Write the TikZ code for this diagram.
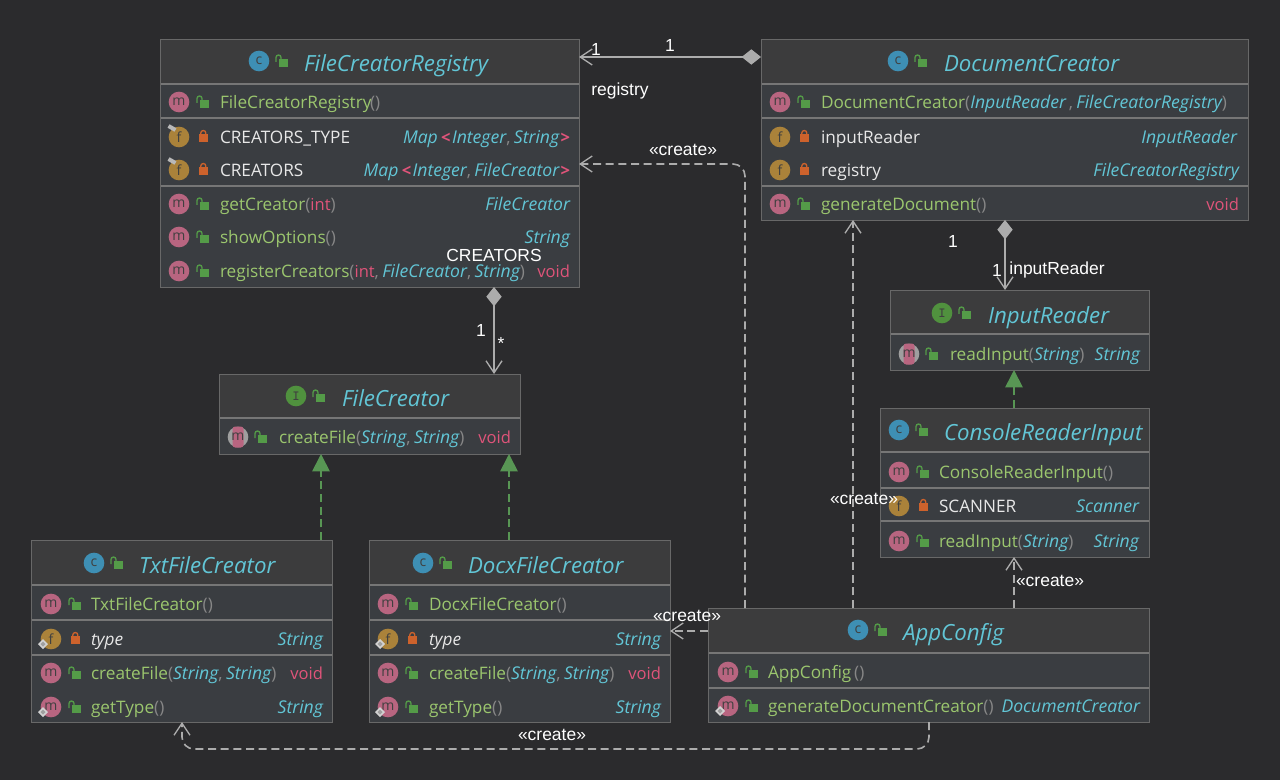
\documentclass[tikz,border=0pt]{standalone}
\usepackage{fontspec}
\setmainfont{Open Sans}
\newfontfamily\labelfont{Liberation Sans}
\usetikzlibrary{arrows.meta,calc}
\definecolor{pagebg}{RGB}{43,43,45}
\definecolor{headbg}{RGB}{60,60,61}
\definecolor{bodybg}{RGB}{58,61,65}
\definecolor{rulegray}{RGB}{104,104,104}
\definecolor{sepgray}{RGB}{118,118,118}
\definecolor{linkgray}{RGB}{172,172,172}
\definecolor{mgreen}{RGB}{155,198,110}
\definecolor{tcyan}{RGB}{98,198,214}
\definecolor{vpink}{RGB}{224,84,122}
\definecolor{pgray}{RGB}{135,135,135}
\definecolor{ftext}{RGB}{232,232,232}
\definecolor{icm}{RGB}{184,101,128}
\definecolor{icf}{RGB}{170,130,58}
\definecolor{icc}{RGB}{62,143,180}
\definecolor{ici}{RGB}{80,145,62}
\definecolor{lockg}{RGB}{84,155,72}
\definecolor{locko}{RGB}{205,98,44}
\definecolor{implg}{RGB}{88,150,84}
\newcounter{nn}
\newcommand\gn[1]{\textcolor{mgreen}{#1}}
\newcommand\cy[1]{\textcolor{tcyan}{\fontsize{13.2}{14}\selectfont\itshape #1}}
\newcommand\pk[1]{\textcolor{vpink}{\fontsize{12.4}{14}\selectfont #1}}
\newcommand\gy[1]{\textcolor{pgray}{#1}}
\newcommand\wh[1]{\textcolor{ftext}{#1}}
\newcommand\cm{\gy{,}\kern2.5pt}
\newcommand\lt{\kern2.5pt\pk{\bfseries<}\kern1pt}
\newcommand\gt{\kern1pt\pk{\bfseries>}}
\tikzset{
 classbox/.style={fill=bodybg,anchor=north west,inner sep=0,outer sep=0},
 boxedge/.style={draw=rulegray,line width=0.6pt},
 sepline/.style={draw=sepgray,line width=0.9pt},
 membertext/.style={inner sep=0,outer sep=0,font=\fontsize{12.9}{14}\selectfont},
 titletext/.style={inner sep=0,outer sep=0,anchor=base west,text=tcyan,font=\fontsize{16.7}{18}\selectfont\itshape},
 icondisc/.style={circle,minimum size=15.5pt,inner sep=0,outer sep=0,font=\fontsize{10.5}{11}\selectfont,text=black!75},
 linklabel/.style={inner sep=0,outer sep=0,text=white,font=\labelfont\fontsize{13.1}{14}\selectfont},
 compo/.style={draw=linkgray,line width=1.3pt,{Diamond[length=14.5pt,width=11.5pt,fill=linkgray,sep=0pt]}-{Straight Barb[length=9pt,width=12pt,line width=1pt]}},
 depend/.style={draw=linkgray,line width=1.2pt,dash pattern=on 6pt off 3.5pt,rounded corners=9pt,-{Straight Barb[length=9pt,width=12pt,line width=1pt]}},
 realize/.style={draw=implg,line width=1.3pt,dash pattern=on 6pt off 3.5pt,-{Triangle[length=13pt,width=13pt,fill=implg]}},
}
\newcommand\umlbox[6]{% name,x1,y1,x2,y2,seps (first = header bottom)
 \node[classbox,minimum width={(#4-#2)*0.75pt},minimum height={(#5-#3)*0.75pt}] (#1) at (#2,#3) {};
 \foreach \s [count=\k] in {#6} {
  \ifnum\k=1 \fill[headbg] (#1.north west) rectangle (#4,\s);\fi
  \draw[sepline] (#2,\s) -- (#4,\s);
 }
 \draw[boxedge] (#1.north west) rectangle (#1.south east);
}
\newcommand\lockicon[3]{% x y open(1)/closed(0)
 \ifnum#3=1
  \fill[lockg] (#1-3,#2-2) rectangle (#1+5.5,#2+6);
  \draw[lockg,line width=1pt] (#1-6,#2+1) -- (#1-6,#2-3.5) arc[start angle=180,end angle=360,radius=2.5] -- (#1-1,#2-2);
 \else
  \fill[locko] (#1-4.2,#2-3) rectangle (#1+4.8,#2+5);
  \draw[locko,line width=1pt] (#1-2.2,#2-3) -- (#1-2.2,#2-4) arc[start angle=180,end angle=360,radius=2.5] -- (#1+2.8,#2-3);
 \fi
}
\newcommand\discicon[4]{% x y letter color
 \stepcounter{nn}\node[icondisc,fill=#4] (n\thenn) at (#1,#2) {#3};
}
\newcommand\absicon[2]{% abstract method icon
 \stepcounter{nn}
 \node[icondisc,fill=gray!75!white] (n\thenn) at (#1,#2) {};
 \fill[icm,rounded corners=2pt] (#1-5.5,#2-10.5) rectangle (#1+5.5,#2+10.5);
 \stepcounter{nn}
 \node[inner sep=0,font=\fontsize{10.5}{11}\selectfont,text=black!75] (n\thenn) at (#1,#2) {m};
}
\newcommand\pinmark[2]{\fill[gray!55!white,rotate around={-30:(#1-7,#2-9)}] (#1-11,#2-11) rectangle (#1-3,#2-7);}
\newcommand\overmark[2]{\fill[gray!35!white] (#1-8,#2) -- (#1-3,#2+5) -- (#1-8,#2+10) -- (#1-13,#2+5) -- cycle;
 \fill[gray!75!white] (#1-8,#2+2.5) -- (#1-5.5,#2+5) -- (#1-8,#2+7.5) -- (#1-10.5,#2+5) -- cycle;}
\newcommand\titlerow[6]{% iconx y letter color textx title
 \discicon{#1}{#2}{#3}{#4}\lockicon{#1+23}{#2}{1}
 \stepcounter{nn}\node[titletext] (n\thenn) at (#5,#2+10.5) {#6};
}
\newcommand\lefttxt[3]{\stepcounter{nn}\node[membertext,anchor=base west] (n\thenn) at (#1,#2+6.5) {#3};}
\newcommand\righttxt[3]{\stepcounter{nn}\node[membertext,anchor=base east] (n\thenn) at (#1,#2+6.5) {#3};}
\newcommand\mrow[4]{\discicon{#1}{#2}{m}{icm}\lockicon{#1+24}{#2}{1}\lefttxt{#3}{#2}{#4}}
\newcommand\frow[4]{\discicon{#1}{#2}{f}{icf}\lockicon{#1+24}{#2}{0}\lefttxt{#3}{#2}{\wh{#4}}}
\newcommand\lab[3]{\stepcounter{nn}\node[linklabel] (n\thenn) at (#1,#2) {#3};}
\newcommand\ifaceI{{\ttfamily\bfseries I}}
\begin{document}
\begin{tikzpicture}[x=0.75pt,y=-0.75pt]
\useasboundingbox (0,0) rectangle (1280,780);
\fill[pagebg] (0,0) rectangle (1280,780);
% ---------- boxes
\umlbox{reg}{160}{39}{579}{287}{84,118,186}
\umlbox{doc}{761}{39}{1248}{220}{84,118,186}
\umlbox{inp}{890}{290}{1149}{370}{334}
\umlbox{con}{880}{408}{1149}{557}{452,488,521}
\umlbox{app}{708}{608}{1149}{722}{653,688}
\umlbox{fil}{219}{374}{520}{454}{418}
\umlbox{txt}{31}{540}{332}{722}{585,620,655}
\umlbox{dcx}{369}{540}{670}{722}{585,620,655}
% ---------- FileCreatorRegistry
\titlerow{259}{61}{c}{icc}{304}{FileCreatorRegistry}
\mrow{179}{102}{220}{\gn{FileCreatorRegistry}\gy{\kern-1pt()}}
\frow{179}{137}{220}{CREATORS\_TYPE}\pinmark{179}{137}
\righttxt{570}{137}{\cy{Map}\lt\cy{Integer}\cm\cy{String}\gt}
\frow{179}{170}{220}{CREATORS}\pinmark{179}{170}
\righttxt{570}{170}{\cy{Map}\lt\cy{Integer}\cm\cy{FileCreator}\gt}
\mrow{179}{204}{220}{\gn{getCreator}\gy{(}\pk{int}\gy{)}}
\righttxt{570}{204}{\cy{FileCreator}}
\mrow{179}{237}{220}{\gn{showOptions}\gy{()}}
\righttxt{570}{237}{\cy{String}}
\mrow{179}{271}{220}{\gn{registerCreators}\gy{(}\pk{int}\cm\cy{FileCreator}\cm\cy{String}\gy{)}}
\righttxt{570}{271}{\pk{void}}
% ---------- DocumentCreator
\titlerow{898}{61}{c}{icc}{944}{DocumentCreator}
\mrow{780}{102}{821}{\gn{DocumentCreator}\gy{(}\cy{InputReader}\,\cm\cy{FileCreatorRegistry}\gy{)}}
\frow{780}{137}{821}{inputReader}
\righttxt{1237}{137}{\cy{InputReader}}
\frow{780}{170}{821}{registry}
\righttxt{1239}{170}{\cy{FileCreatorRegistry}}
\mrow{780}{204}{821}{\gn{generateDocument}\gy{()}}
\righttxt{1239}{204}{\pk{void}}
% ---------- InputReader
\titlerow{942}{313}{\ifaceI}{ici}{988}{InputReader}
\absicon{909}{354}\lockicon{932}{354}{1}
\lefttxt{950}{354}{\gn{readInput}\gy{(}\cy{String}\gy{)}}
\righttxt{1140}{354}{\cy{String}}
% ---------- ConsoleReaderInput
\titlerow{899}{430}{c}{icc}{944}{ConsoleReaderInput}
\mrow{899}{472}{939}{\gn{ConsoleReaderInput}\gy{()}}
\frow{899}{506}{939}{SCANNER}
\righttxt{1139}{506}{\cy{Scanner}}
\mrow{899}{541}{939}{\gn{readInput}\gy{(}\cy{String}\gy{)}}
\righttxt{1139}{541}{\cy{String}}
% ---------- AppConfig
\titlerow{858}{630}{c}{icc}{903}{AppConfig}
\mrow{728}{672}{768}{\gn{AppConfig}\,\gy{()}}
\mrow{728}{706}{768}{\gn{generateDocumentCreator}\gy{()}}\overmark{728}{706}
\righttxt{1140}{706}{\cy{DocumentCreator}}
% ---------- FileCreator
\titlerow{296}{396}{\ifaceI}{ici}{342}{FileCreator}
\absicon{238}{437}\lockicon{261}{437}{1}
\lefttxt{279}{437}{\gn{createFile}\gy{(}\cy{String}\cm\cy{String}\gy{)}}
\righttxt{511}{437}{\pk{void}}
% ---------- TxtFileCreator
\titlerow{94}{563}{c}{icc}{139}{TxtFileCreator}
\mrow{51}{604}{91}{\gn{TxtFileCreator}\gy{()}}
\frow{51}{639}{91}{\itshape type}\overmark{51}{639}
\righttxt{323}{639}{\cy{String}}
\mrow{51}{673}{91}{\gn{createFile}\gy{(}\cy{String}\cm\cy{String}\gy{)}}
\righttxt{323}{673}{\pk{void}}
\mrow{51}{707}{91}{\gn{getType}\gy{()}}\overmark{51}{707}
\righttxt{323}{707}{\cy{String}}
% ---------- DocxFileCreator
\titlerow{423}{563}{c}{icc}{468}{DocxFileCreator}
\mrow{388}{604}{429}{\gn{DocxFileCreator}\gy{()}}
\frow{388}{639}{429}{\itshape type}\overmark{388}{639}
\righttxt{661}{639}{\cy{String}}
\mrow{388}{673}{429}{\gn{createFile}\gy{(}\cy{String}\cm\cy{String}\gy{)}}
\righttxt{661}{673}{\pk{void}}
\mrow{388}{707}{429}{\gn{getType}\gy{()}}\overmark{388}{707}
\righttxt{661}{707}{\cy{String}}
% ---------- connectors
\coordinate (xa) at (745,164);
\coordinate (xb) at (853,0);
\coordinate (xc) at (1014,0);
\coordinate (xd) at (494,0);
\coordinate (xe) at (1005,0);
\coordinate (xf) at (321,0);
\coordinate (xg) at (509,0);
\coordinate (ya) at (0,57);
\coordinate (yb) at (0,631);
\coordinate (xh) at (929,749);
\coordinate (xi) at (182,0);
\draw[compo] (doc.west |- ya) -- (reg.east |- ya);
\draw[depend] (app.north -| xa) -- (xa) -- (reg.east |- xa);
\draw[depend] (app.north -| xb) -- (doc.south -| xb);
\draw[depend] (app.north -| xc) -- (con.south -| xc);
\draw[depend] (app.west |- yb) -- (dcx.east |- yb);
\draw[depend] (app.south -| xh) -- (xh) -- (xh -| xi) -- (txt.south -| xi);
\draw[compo] (reg.south -| xd) -- (fil.north -| xd);
\draw[compo] (doc.south -| xe) -- (inp.north -| xe);
\draw[realize] (txt.north -| xf) -- (fil.south -| xf);
\draw[realize] (dcx.north -| xg) -- (fil.south -| xg);
\draw[realize] (con.north -| xc) -- (inp.south -| xc);
% ---------- link labels
\lab{596}{49}{1}
\lab{670}{45}{1}
\lab{620}{91}{registry}
\lab{683}{150}{«create»}
\lab{864}{499}{«create»}
\lab{1050}{581}{«create»}
\lab{687}{616}{«create»}
\lab{552}{735}{«create»}
\lab{494}{255}{CREATORS}
\lab{481}{330}{1}
\lab{501}{343}{*}
\lab{953}{241}{1}
\lab{997}{270}{1}
\lab{1057}{270}{inputReader}
\end{tikzpicture}
\end{document}
